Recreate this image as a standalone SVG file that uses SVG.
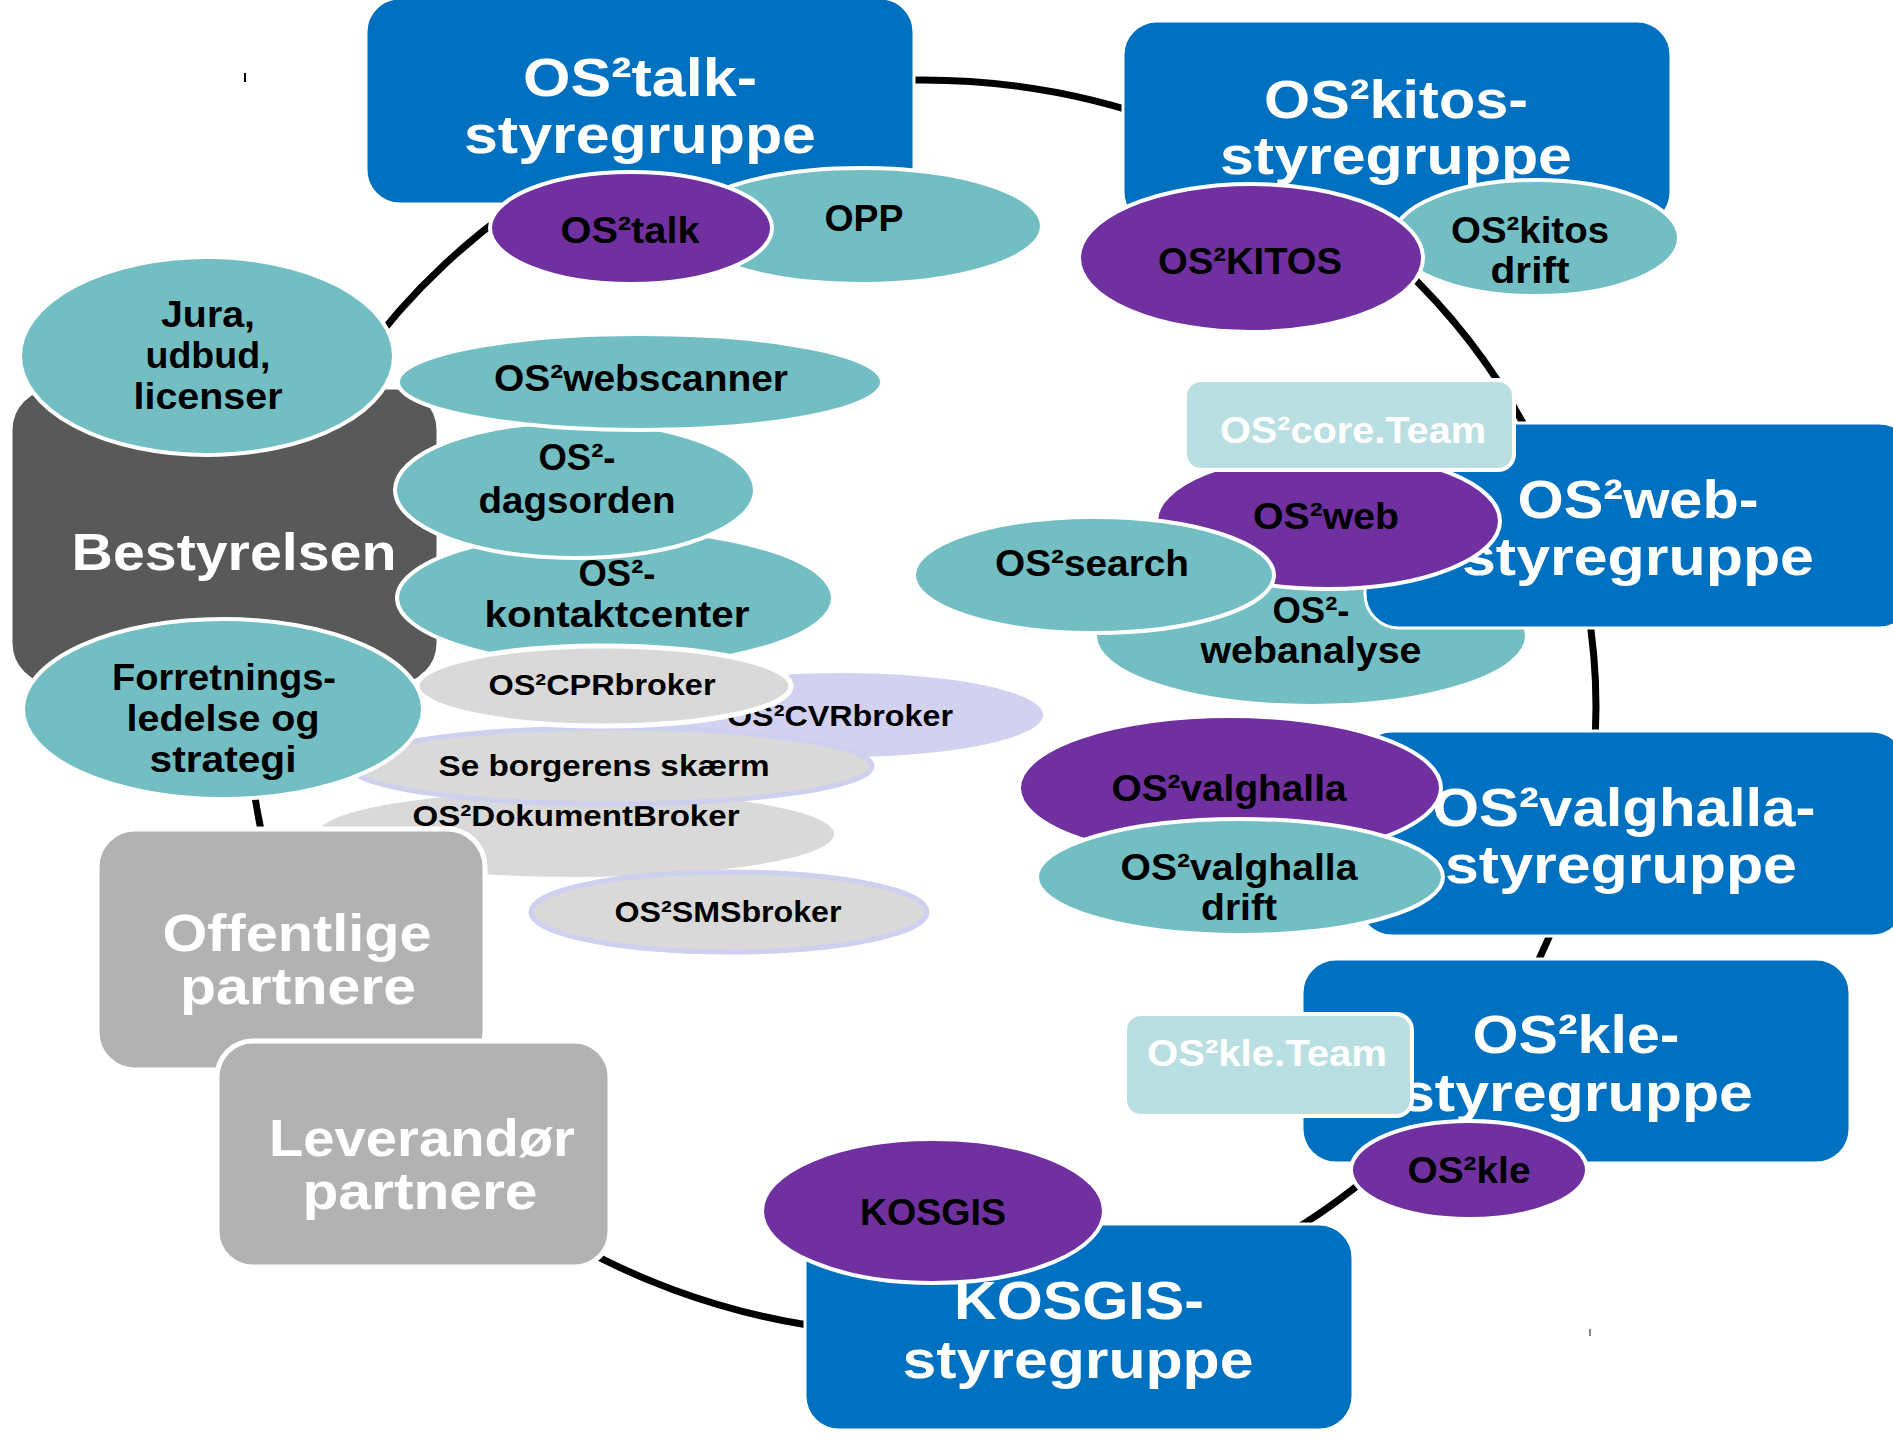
<svg xmlns="http://www.w3.org/2000/svg" width="1893" height="1440" viewBox="0 0 1893 1440">
<style>
text{font-family:"Liberation Sans",Arial,sans-serif;font-weight:bold;text-anchor:middle}
.box{fill:#0070C0;stroke:#fff;stroke-width:3}
.bt{font-size:54px;fill:#fff}
.gbox{fill:#B2B2B2;stroke:#fff;stroke-width:5}
.dbox{fill:#595959;stroke:#fff;stroke-width:3}
.gt{font-size:52px;fill:#fff}
.teal{fill:#72BEC3;stroke:#fff;stroke-width:4}
.purple{fill:#7030A0;stroke:#fff;stroke-width:4}
.grey{fill:#D9D9D9;stroke:#fff;stroke-width:5}
.greyl{fill:#D9D9D9;stroke:#CFCFEF;stroke-width:5}
.grey0{fill:#D9D9D9}
.lav{fill:#D2D2F0}
.team{fill:#B9DFE2;stroke:#fff;stroke-width:4}
.et{font-size:37px;fill:#000}
.st{font-size:30px;fill:#000}
.tt{font-size:37px;fill:#fff}
.ring{fill:none;stroke:#000;stroke-width:7}
</style>
<g id="connectors">
<ellipse class="ring" cx="922" cy="707" rx="674" ry="627"/>
<line x1="245" y1="73" x2="245" y2="82" stroke="#000" stroke-width="2"/>
<line x1="1590" y1="1329" x2="1590" y2="1336" stroke="#888" stroke-width="2"/>
</g>
<g id="bestyrelsen">
<rect class="dbox" x="11" y="388" width="427" height="297" rx="42"/>
<text class="gt" x="234" y="570" textLength="325" lengthAdjust="spacingAndGlyphs">Bestyrelsen</text>
</g>
<g id="jura">
<ellipse class="teal" cx="207" cy="356" rx="187" ry="99"/>
<text class="et" x="208" y="327" textLength="94" lengthAdjust="spacingAndGlyphs">Jura,</text>
<text class="et" x="208" y="368" textLength="125" lengthAdjust="spacingAndGlyphs">udbud,</text>
<text class="et" x="208" y="409" textLength="149" lengthAdjust="spacingAndGlyphs">licenser</text>
</g>
<g id="talk-styregruppe">
<rect class="box" x="366" y="-2" width="548" height="206" rx="34"/>
<text class="bt" x="640" y="96" textLength="234" lengthAdjust="spacingAndGlyphs">OS²talk-</text>
<text class="bt" x="640" y="153" textLength="352" lengthAdjust="spacingAndGlyphs">styregruppe</text>
</g>
<g id="opp">
<ellipse class="teal" cx="862" cy="226" rx="180" ry="58"/>
<text class="et" x="864" y="231" textLength="79" lengthAdjust="spacingAndGlyphs">OPP</text>
</g>
<g id="os2talk">
<ellipse class="purple" cx="631" cy="228" rx="141" ry="56"/>
<text class="et" x="630" y="243" textLength="139" lengthAdjust="spacingAndGlyphs">OS²talk</text>
</g>
<g id="kitos-styregruppe">
<rect class="box" x="1123" y="21" width="548" height="205" rx="34"/>
<text class="bt" x="1396" y="118" textLength="264" lengthAdjust="spacingAndGlyphs">OS²kitos-</text>
<text class="bt" x="1396" y="174" textLength="352" lengthAdjust="spacingAndGlyphs">styregruppe</text>
</g>
<g id="kitos-drift">
<ellipse class="teal" cx="1536" cy="238" rx="143" ry="58"/>
<text class="et" x="1530" y="243" textLength="158" lengthAdjust="spacingAndGlyphs">OS²kitos</text>
<text class="et" x="1530" y="283" textLength="79" lengthAdjust="spacingAndGlyphs">drift</text>
</g>
<g id="os2kitos">
<ellipse class="purple" cx="1251" cy="258" rx="172" ry="74"/>
<text class="et" x="1250" y="274" textLength="184" lengthAdjust="spacingAndGlyphs">OS²KITOS</text>
</g>
<g id="kontaktcenter">
<ellipse class="teal" cx="615" cy="598" rx="218" ry="68"/>
<text class="et" x="617" y="586" textLength="77" lengthAdjust="spacingAndGlyphs">OS²-</text>
<text class="et" x="617" y="627" textLength="265" lengthAdjust="spacingAndGlyphs">kontaktcenter</text>
</g>
<g id="dagsorden">
<ellipse class="teal" cx="575" cy="490" rx="180" ry="68"/>
<text class="et" x="577" y="470" textLength="77" lengthAdjust="spacingAndGlyphs">OS²-</text>
<text class="et" x="577" y="513" textLength="197" lengthAdjust="spacingAndGlyphs">dagsorden</text>
</g>
<g id="webscanner">
<ellipse class="teal" cx="640" cy="382" rx="242" ry="48"/>
<text class="et" x="641" y="391" textLength="294" lengthAdjust="spacingAndGlyphs">OS²webscanner</text>
</g>
<g id="cvrbroker">
<ellipse class="lav" cx="842" cy="715" rx="201" ry="42"/>
<text class="st" x="840" y="726" textLength="226" lengthAdjust="spacingAndGlyphs">OS²CVRbroker</text>
</g>
<g id="dokumentbroker">
<ellipse class="grey0" cx="576" cy="834" rx="258" ry="43"/>
<text class="st" x="576" y="826" textLength="327" lengthAdjust="spacingAndGlyphs">OS²DokumentBroker</text>
</g>
<g id="se-borgerens-skaerm">
<ellipse class="greyl" cx="611" cy="766" rx="261" ry="38"/>
<text class="st" x="604" y="776" textLength="331" lengthAdjust="spacingAndGlyphs">Se borgerens skærm</text>
</g>
<g id="cprbroker">
<ellipse class="grey" cx="604" cy="686" rx="187" ry="40"/>
<text class="st" x="602" y="695" textLength="227" lengthAdjust="spacingAndGlyphs">OS²CPRbroker</text>
</g>
<g id="forretningsledelse">
<ellipse class="teal" cx="223" cy="709" rx="200" ry="90"/>
<text class="et" x="224" y="690" textLength="224" lengthAdjust="spacingAndGlyphs">Forretnings-</text>
<text class="et" x="223" y="731" textLength="193" lengthAdjust="spacingAndGlyphs">ledelse og</text>
<text class="et" x="223" y="772" textLength="147" lengthAdjust="spacingAndGlyphs">strategi</text>
</g>
<g id="smsbroker">
<ellipse class="greyl" cx="729" cy="912" rx="198" ry="40"/>
<text class="st" x="728" y="922" textLength="227" lengthAdjust="spacingAndGlyphs">OS²SMSbroker</text>
</g>
<g id="offentlige-partnere">
<rect class="gbox" x="97" y="829" width="388" height="241" rx="38"/>
<text class="gt" x="297" y="951" textLength="269" lengthAdjust="spacingAndGlyphs">Offentlige</text>
<text class="gt" x="298" y="1004" textLength="236" lengthAdjust="spacingAndGlyphs">partnere</text>
</g>
<g id="leverandoer-partnere">
<rect class="gbox" x="217" y="1041" width="393" height="226" rx="36"/>
<text class="gt" x="422" y="1156" textLength="306" lengthAdjust="spacingAndGlyphs">Leverandør</text>
<text class="gt" x="420" y="1209" textLength="235" lengthAdjust="spacingAndGlyphs">partnere</text>
</g>
<g id="webanalyse">
<ellipse class="teal" cx="1311" cy="636" rx="216" ry="70"/>
<text class="et" x="1311" y="623" textLength="77" lengthAdjust="spacingAndGlyphs">OS²-</text>
<text class="et" x="1311" y="663" textLength="221" lengthAdjust="spacingAndGlyphs">webanalyse</text>
</g>
<g id="web-styregruppe">
<rect class="box" x="1365" y="423" width="548" height="205" rx="34"/>
<text class="bt" x="1638" y="518" textLength="241" lengthAdjust="spacingAndGlyphs">OS²web-</text>
<text class="bt" x="1638" y="575" textLength="352" lengthAdjust="spacingAndGlyphs">styregruppe</text>
</g>
<g id="os2web">
<ellipse class="purple" cx="1328" cy="521" rx="172" ry="68"/>
<text class="et" x="1326" y="529" textLength="146" lengthAdjust="spacingAndGlyphs">OS²web</text>
</g>
<g id="os2search">
<ellipse class="teal" cx="1094" cy="575" rx="180" ry="58"/>
<text class="et" x="1092" y="576" textLength="194" lengthAdjust="spacingAndGlyphs">OS²search</text>
</g>
<g id="core-team">
<rect class="team" x="1185" y="380" width="329" height="90" rx="16"/>
<text class="tt" x="1353" y="443" textLength="266" lengthAdjust="spacingAndGlyphs">OS²core.Team</text>
</g>
<g id="valghalla-styregruppe">
<rect class="box" x="1358" y="731" width="548" height="205" rx="34"/>
<text class="bt" x="1624" y="826" textLength="383" lengthAdjust="spacingAndGlyphs">OS²valghalla-</text>
<text class="bt" x="1621" y="883" textLength="352" lengthAdjust="spacingAndGlyphs">styregruppe</text>
</g>
<g id="os2valghalla">
<ellipse class="purple" cx="1230" cy="788" rx="211" ry="72"/>
<text class="et" x="1229" y="801" textLength="235" lengthAdjust="spacingAndGlyphs">OS²valghalla</text>
</g>
<g id="valghalla-drift">
<ellipse class="teal" cx="1240" cy="877" rx="203" ry="58"/>
<text class="et" x="1239" y="880" textLength="237" lengthAdjust="spacingAndGlyphs">OS²valghalla</text>
<text class="et" x="1239" y="920" textLength="76" lengthAdjust="spacingAndGlyphs">drift</text>
</g>
<g id="kle-styregruppe">
<rect class="box" x="1302" y="959" width="548" height="204" rx="34"/>
<text class="bt" x="1576" y="1053" textLength="207" lengthAdjust="spacingAndGlyphs">OS²kle-</text>
<text class="bt" x="1577" y="1111" textLength="352" lengthAdjust="spacingAndGlyphs">styregruppe</text>
</g>
<g id="kle-team">
<rect class="team" x="1125" y="1014" width="287" height="102" rx="16"/>
<text class="tt" x="1267" y="1066" textLength="240" lengthAdjust="spacingAndGlyphs">OS²kle.Team</text>
</g>
<g id="os2kle">
<ellipse class="purple" cx="1469" cy="1170" rx="118" ry="49"/>
<text class="et" x="1469" y="1183" textLength="123" lengthAdjust="spacingAndGlyphs">OS²kle</text>
</g>
<g id="kosgis-styregruppe">
<rect class="box" x="805" y="1224" width="548" height="206" rx="34"/>
<text class="bt" x="1079" y="1319" textLength="250" lengthAdjust="spacingAndGlyphs">KOSGIS-</text>
<text class="bt" x="1078" y="1378" textLength="351" lengthAdjust="spacingAndGlyphs">styregruppe</text>
</g>
<g id="kosgis">
<ellipse class="purple" cx="933" cy="1211" rx="171" ry="72"/>
<text class="et" x="933" y="1225" textLength="146" lengthAdjust="spacingAndGlyphs">KOSGIS</text>
</g>
</svg>
